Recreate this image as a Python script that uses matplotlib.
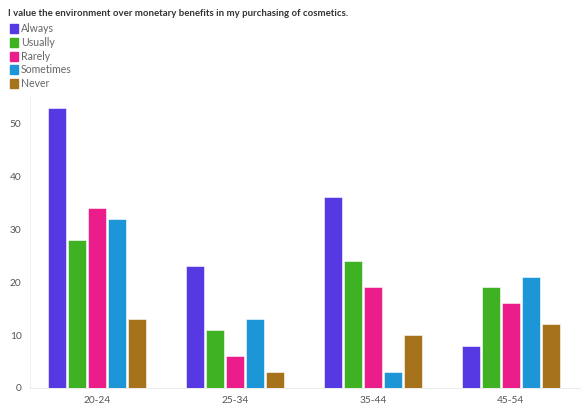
import numpy as np
import matplotlib.pyplot as plt
from matplotlib.patches import Patch

plt.rcParams['font.family'] = ['Lato', 'DejaVu Sans']

# age groups and answers per category
groups = ['20-24', '25-34', '35-44', '45-54']
answers = ['Always', 'Usually', 'Rarely', 'Sometimes', 'Never']
always = [53, 23, 36, 8]
usually = [28, 11, 24, 19]
rarely = [34, 6, 19, 16]
sometimes = [32, 13, 3, 21]
never = [13, 3, 10, 12]
series = [always, usually, rarely, sometimes, never]
colors = ['#5639e3', '#3fb224', '#ea1d8b', '#1d96d7', '#a6721c']

fig = plt.figure(figsize=(5.85, 4.18), dpi=100)
ax = fig.add_axes([0.051, 0.072, 0.94, 0.696])

x = np.arange(len(groups))
step = 0.145
w = 0.13
for k, (vals, c) in enumerate(zip(series, colors)):
    ax.bar(x + (k - 2) * step, vals, width=w, color=c, edgecolor='white', linewidth=0.4)

ax.set_xlim(-0.49, 3.5)
ax.set_ylim(0, 55)
ax.set_yticks([0, 10, 20, 30, 40, 50])
ax.set_xticks(x)
ax.set_xticklabels(groups)
ax.tick_params(length=0, labelsize=7.3, colors='#555555', pad=6)
for s in ['top', 'right']:
    ax.spines[s].set_visible(False)
ax.spines['left'].set_color('#eeeeee')
ax.spines['bottom'].set_color('#e6e6e6')
ax.spines['left'].set_linewidth(0.6)
ax.spines['bottom'].set_linewidth(0.6)

fig.text(0.014, 0.968, 'I value the environment over monetary benefits in my purchasing of cosmetics.',
         fontsize=6.9, fontweight='bold', color='#333333', va='center')

handles = [Patch(facecolor=c, edgecolor=c) for c in colors]
leg = fig.legend(handles, answers, loc='upper left', bbox_to_anchor=(0.016, 0.947),
                 frameon=False, fontsize=7.6, handlelength=0.75, handleheight=0.95,
                 handletextpad=0.25, labelspacing=0.26, borderaxespad=0, borderpad=0.1)
for t in leg.get_texts():
    t.set_color('#666666')

fig.savefig('out.png', dpi=100)
